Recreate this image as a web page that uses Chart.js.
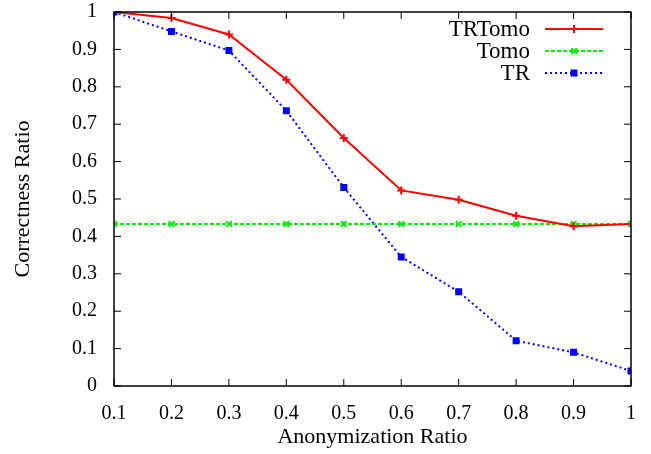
<!DOCTYPE html>
<html>
<head>
<meta charset="utf-8">
<script src="https://cdn.jsdelivr.net/npm/chart.js@4/dist/chart.umd.min.js"></script>
<style>
  html, body { margin: 0; padding: 0; background: #fff; }
  #wrap { width: 651px; height: 454px; }
</style>
</head>
<body>
<div id="wrap"><canvas id="c" width="651" height="454"></canvas></div>
<script>
// Dados
const ratios = [0.1, 0.2, 0.3, 0.4, 0.5, 0.6, 0.7, 0.8, 0.9, 1];
const trTomo = [1.0, 0.984, 0.94, 0.819, 0.663, 0.523, 0.498, 0.455, 0.427, 0.433];
const tomo = [0.433, 0.433, 0.433, 0.433, 0.433, 0.433, 0.433, 0.433, 0.433, 0.433];
const tr = [1.0, 0.948, 0.897, 0.736, 0.531, 0.345, 0.252, 0.121, 0.09, 0.04];

const serif = '"Liberation Serif", "DejaVu Serif", serif';
const toXY = vals => vals.map((v, i) => ({ x: ratios[i], y: v }));
const fmt = v => String(Number(v.toFixed(1)));

const series = [
  { label: 'TRTomo', data: trTomo, color: '#ff0000', dash: [], point: 'cross', r: 4 },
  { label: 'Tomo', data: tomo, color: '#00ee00', dash: [4, 2], point: 'crossRot', r: 4 },
  { label: 'TR', data: tr, color: '#0000ff', dash: [2, 3], point: 'rect', r: 3.5 }
];

// Moldura e marcas internas (estilo gnuplot) + legenda
const frame = {
  id: 'frame',
  afterDraw(chart) {
    const { ctx, chartArea: a, scales } = chart;
    ctx.save();
    ctx.strokeStyle = '#000';
    ctx.lineWidth = 1.5;
    ctx.strokeRect(a.left, a.top, a.right - a.left, a.bottom - a.top);
    ctx.lineWidth = 1;
    ctx.beginPath();
    scales.x.ticks.forEach(t => {
      const px = scales.x.getPixelForValue(t.value);
      ctx.moveTo(px, a.bottom); ctx.lineTo(px, a.bottom - 7);
      ctx.moveTo(px, a.top); ctx.lineTo(px, a.top + 7);
    });
    scales.y.ticks.forEach(t => {
      const py = scales.y.getPixelForValue(t.value);
      ctx.moveTo(a.left, py); ctx.lineTo(a.left + 7, py);
      ctx.moveTo(a.right, py); ctx.lineTo(a.right - 7, py);
    });
    ctx.stroke();

    // legenda
    ctx.font = '23px ' + serif;
    ctx.textAlign = 'right';
    ctx.textBaseline = 'middle';
    const rows = [30, 52, 74];
    series.forEach((s, i) => {
      const y = rows[i];
      ctx.fillStyle = '#000';
      ctx.fillText(s.label, 530, y);
      ctx.strokeStyle = s.color;
      ctx.fillStyle = s.color;
      ctx.lineWidth = 2;
      ctx.setLineDash(s.dash);
      ctx.beginPath();
      ctx.moveTo(545, y - 1); ctx.lineTo(603, y - 1);
      ctx.stroke();
      ctx.setLineDash([]);
      Chart.helpers.drawPoint(ctx, { pointStyle: s.point, radius: s.r, borderWidth: 2 }, 574, y - 1);
    });
    ctx.restore();
  }
};

new Chart(document.getElementById('c'), {
  type: 'line',
  data: {
    datasets: series.map(s => ({
      label: s.label,
      data: toXY(s.data),
      borderColor: s.color,
      backgroundColor: s.color,
      borderWidth: 2,
      borderDash: s.dash,
      pointStyle: s.point,
      pointRadius: s.r,
      pointBorderWidth: 2,
      fill: false,
      tension: 0
    }))
  },
  options: {
    responsive: false,
    animation: false,
    layout: { padding: { top: 12, right: 20, left: 0, bottom: 0 } },
    plugins: { legend: { display: false }, tooltip: { enabled: false } },
    scales: {
      x: {
        type: 'linear',
        min: 0.1,
        max: 1,
        ticks: { stepSize: 0.1, color: '#000', font: { family: serif, size: 20 }, padding: 8, maxRotation: 0, callback: fmt },
        grid: { display: false },
        border: { display: false },
        title: { display: true, text: 'Anonymization Ratio', color: '#000', font: { family: serif, size: 22 }, padding: { top: 10 } },
        afterFit: s => { s.height = 68; s.paddingLeft = 0; s.paddingRight = 0; }
      },
      y: {
        min: 0,
        max: 1,
        ticks: { stepSize: 0.1, color: '#000', font: { family: serif, size: 20 }, padding: 9, callback: fmt },
        grid: { display: false },
        border: { display: false },
        title: { display: true, text: 'Correctness Ratio', color: '#000', font: { family: serif, size: 22 }, padding: { top: 10, bottom: 10 } },
        afterFit: s => { s.width = 114; s.paddingTop = 0; s.paddingBottom = 0; }
      }
    }
  },
  plugins: [frame]
});
</script>
</body>
</html>
